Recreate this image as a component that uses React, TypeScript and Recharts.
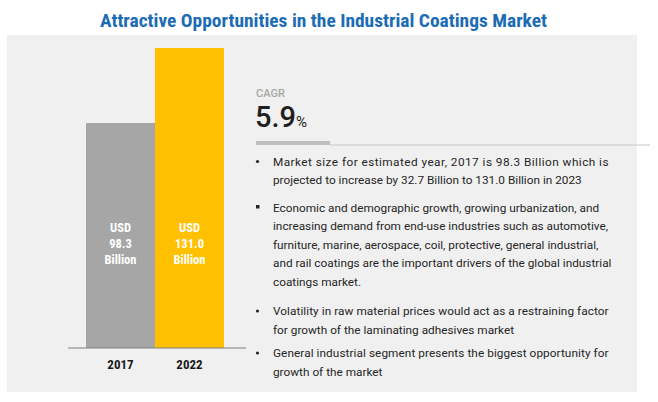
import React from 'react';
import { BarChart, Bar, XAxis, YAxis, Cell, LabelList } from 'recharts';

// ---- data ----
const categories = ['2017', '2022'];
const marketSize = [98.3, 131.0];
const barColors = ['#a6a6a6', '#ffc000'];
const currency = 'USD';
const unit = 'Billion';
const title = 'Attractive Opportunities in the Industrial Coatings Market';
const cagrLabel = 'CAGR';
const cagrValue = '5.9';
const cagrUnit = '%';

const paragraph1 = [
  'Market size for estimated year, 2017 is 98.3 Billion which is',
  'projected to increase by 32.7 Billion to 131.0 Billion in 2023',
];
const paragraph2 = [
  'Economic and demographic growth, growing urbanization, and',
  'increasing demand from end-use industries such as automotive,',
  'furniture, marine, aerospace, coil, protective, general industrial,',
  'and rail coatings are the important drivers of the global industrial',
  'coatings market.',
];
const paragraph3 = [
  'Volatility in raw material prices would act as a restraining factor',
  'for growth of the laminating adhesives market',
];
const paragraph4 = [
  'General industrial segment presents the biggest opportunity for',
  'growth of the market',
];
const paragraphs = [paragraph1, paragraph2, paragraph3, paragraph4];

// ---- layout / style ----
const W = 658;
const H = 402;
const BODY_FONT = 'Roboto, "Liberation Sans", sans-serif';
const NARROW_FONT = '"Liberation Sans Narrow", "Roboto Condensed", "DejaVu Sans Condensed", Roboto, sans-serif';
const paragraphTops = [165.5, 211.5, 315, 357];
const paragraphBullets = ['dot', 'square', 'dot', 'dot'];
const paragraphJustify = [true, false, true, true];
const LINE_H = 18.6;
const TEXT_X = 273;
const TEXT_RIGHT = 608.5;

const data = categories.map((c, i) => ({ year: c, value: marketSize[i] }));

const BarValueLabel = (props: any) => {
  const { x, y, width, height, value } = props;
  const cx = x + width / 2;
  const base = y + height;
  const lines = [currency, Number(value).toFixed(1), unit];
  const offs = [116, 100, 84];
  return (
    <g>
      {lines.map((t, i) => (
        <text
          key={i}
          x={cx}
          y={base - offs[i]}
          textAnchor="middle"
          fill="#ffffff"
          fontFamily={NARROW_FONT}
          fontWeight={700}
          fontSize={12.5}
        >
          {t}
        </text>
      ))}
    </g>
  );
};

const YearTick = (props: any) => {
  const { x, y, payload } = props;
  return (
    <text
      x={x}
      y={y + 13}
      textAnchor="middle"
      fill="#1a1a1a"
      fontFamily={NARROW_FONT}
      fontWeight={700}
      fontSize={13}
    >
      {payload.value}
    </text>
  );
};

export default function App() {
  return (
    <div style={{ position: 'absolute', left: 0, top: 0, width: W, height: H, background: '#ffffff', overflow: 'hidden' }}>
      <div style={{ position: 'absolute', left: 7, top: 35, width: 630, height: 357, background: '#f0f0f0' }} />
      <div style={{ position: 'absolute', left: 0, top: 0 }}>
        <BarChart
          width={W}
          height={H}
          data={data}
          margin={{ top: 48, right: 412, bottom: 24, left: 68 }}
          barCategoryGap={0}
          barGap={0}
        >
          <XAxis
            dataKey="year"
            padding={{ left: 18, right: 22 }}
            axisLine={{ stroke: '#7f7f7f', strokeWidth: 1 }}
            tickLine={false}
            height={30}
            tick={<YearTick />}
            interval={0}
          />
          <YAxis hide domain={[0, 131]} />
          <Bar dataKey="value" isAnimationActive={false}>
            {data.map((d, i) => (
              <Cell key={d.year} fill={barColors[i]} />
            ))}
            <LabelList dataKey="value" content={<BarValueLabel />} />
          </Bar>
        </BarChart>
      </div>
      <svg
        width={W}
        height={H}
        style={{ position: 'absolute', left: 0, top: 0, pointerEvents: 'none' }}
      >
        <text
          x={100}
          y={27}
          fill="#1b6cb5"
          fontFamily={NARROW_FONT}
          fontWeight={700}
          fontSize={18.5}
          textLength={447}
          lengthAdjust="spacingAndGlyphs"
        >
          {title}
        </text>
        <text x={256} y={97} fill="#a6a6a6" fontFamily={BODY_FONT} fontWeight={500} fontSize={11}>
          {cagrLabel}
        </text>
        <text x={255} y={127} fill="#1f1f1f" fontFamily={BODY_FONT} fontWeight={500} fontSize={29}>
          {cagrValue}
        </text>
        <text x={296} y={127} fill="#1f1f1f" fontFamily={BODY_FONT} fontSize={15}>
          {cagrUnit}
        </text>
        <rect x={256} y={141} width={74} height={4} fill="#bfbfbf" />
        <line x1={330} y1={145} x2={650} y2={145} stroke="#c8c8c8" strokeWidth={1} />
        {paragraphs.map((lines, p) => (
          <g key={p}>
            {paragraphBullets[p] === 'dot' ? (
              <circle cx={257.5} cy={paragraphTops[p] - 4} r={1.6} fill="#262626" />
            ) : (
              <rect x={256} y={paragraphTops[p] - 6.5} width={3.5} height={3.5} fill="#262626" />
            )}
            {lines.map((line, i) => {
              const justify = paragraphJustify[p] && i < lines.length - 1;
              return (
                <text
                  key={i}
                  x={TEXT_X}
                  y={paragraphTops[p] + i * LINE_H}
                  fill="#262626"
                  fontFamily={BODY_FONT}
                  fontSize={11.8}
                  {...(justify ? { textLength: TEXT_RIGHT - TEXT_X, lengthAdjust: 'spacing' } : {})}
                >
                  {line}
                </text>
              );
            })}
          </g>
        ))}
      </svg>
    </div>
  );
}
